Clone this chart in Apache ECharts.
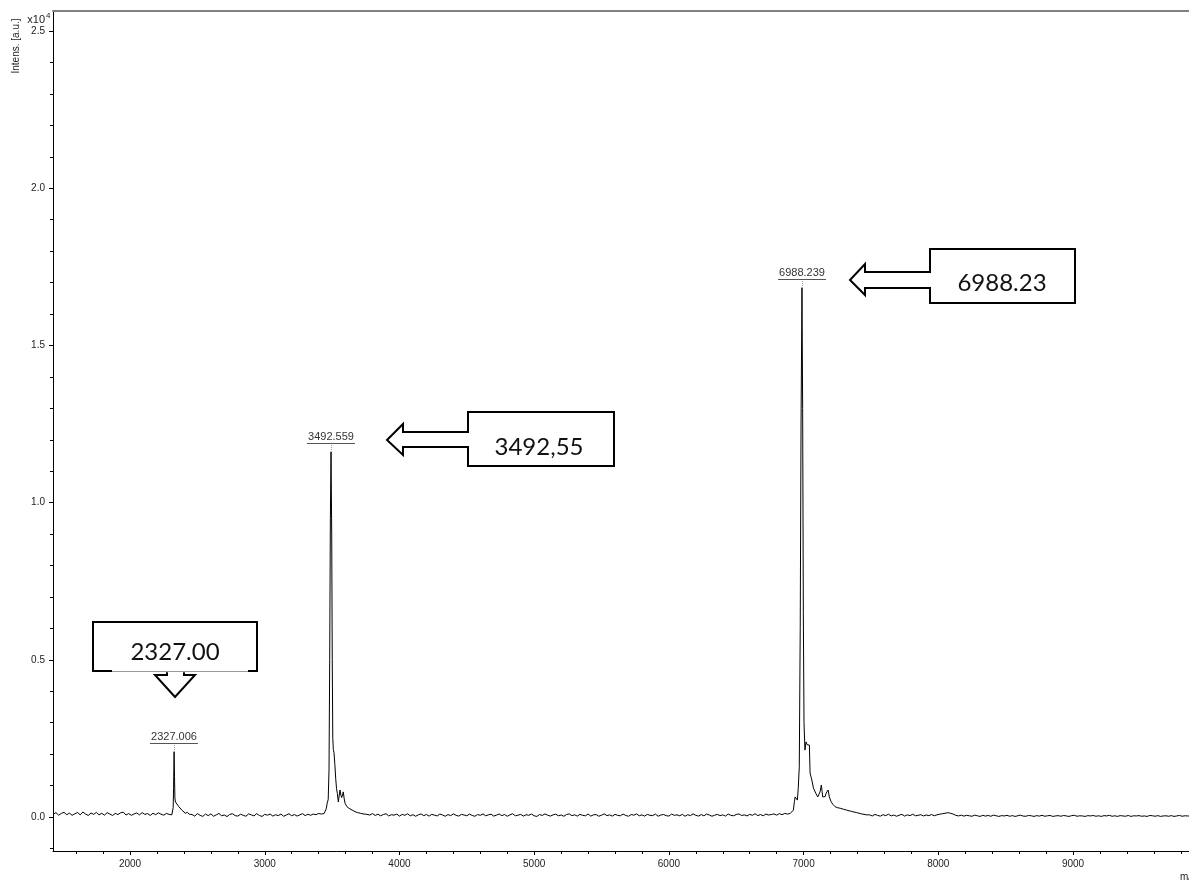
<!DOCTYPE html>
<html>
<head>
<meta charset="utf-8">
<script src="https://cdn.jsdelivr.net/npm/echarts@6/dist/echarts.min.js"></script>
<style>
html,body{margin:0;padding:0;background:#fff;}
#main{width:1189px;height:881px;}
</style>
</head>
<body>
<div id="main"></div>
<script>
// ---------- data ----------
const xTickValues = [2000, 3000, 4000, 5000, 6000, 7000, 8000, 9000];
const xMinorTickValues = [1600, 1800, 2200, 2400, 2600, 2800, 3200, 3400, 3600, 3800, 4200, 4400, 4600, 4800,
  5200, 5400, 5600, 5800, 6200, 6400, 6600, 6800, 7200, 7400, 7600, 7800, 8200, 8400, 8600, 8800,
  9200, 9400, 9600, 9800];
const yTickValues = [0, 5000, 10000, 15000, 20000, 25000];
const yMinorTickValues = [-1000, 1000, 2000, 3000, 4000, 6000, 7000, 8000, 9000, 11000, 12000, 13000, 14000,
  16000, 17000, 18000, 19000, 21000, 22000, 23000, 24000];

// baseline noise segments (start m/z, step 20)
const baseline1 = [90,140,60,115,150,75,125,55,105,145,70,160,95,50,130,85,150,70,120,60,140,95,50,115,80,135,155,65,110,55,100,130,70,140,85,110,50,120,75,135,90,60,115,85];
const peak2327 = [[2300,100],[2310,70],[2316,120],[2320,300],[2323,900],[2327,2080],[2330,1300],[2333,600],[2337,480],[2342,470],[2350,420],[2360,340],[2372,300],[2385,220],[2398,190],[2410,120],[2425,150],[2440,90]];
const baseline2 = [80,30,110,55,20,95,45,100,25,70, 115,40,65,15,85,105,45,30,90,55, 25,100,70,35,110,50,20,85,60,95, 30,75,45,95,25,65,105,40,80,30, 70,110,45,90,55,95,75,115,95];
const peak3492 = [[3430,90],[3440,110],[3448,150],[3456,260],[3464,450],[3471,560],[3477,1500],[3482,5000],[3487,9500],[3492,11620],[3497,9000],[3501,5000],[3505,2500],[3509,2150],[3514,2050],[3520,1700],[3527,1200],[3533,900],[3539,750],[3546,480],[3553,700],[3559,860],[3565,700],[3571,620],[3577,700],[3583,800],[3589,600],[3596,440],[3610,330],[3625,280],[3640,240],[3655,210],[3670,170],[3690,140],[3710,120],[3730,100],[3750,90]];
const baseline3 = [95,65,110,50,90,40,80,105,35,75, 60,95,30,85,55,105,40,75,25,70, 100,45,80,30,85,60,35,95,65,25,
  80,45,100,55,30,85,65,40,95,50, 25,80,55,100,40,70,90,30,60,95, 45,80,25,70,105,40,60,85,30,75,
  55,95,40,20,80,50,100,60,30,70, 90,40,65,25,80,100,45,70,30,85, 55,40,95,30,70,80,25,60,100,45,
  70,30,85,55,40,95,50,25,80,60, 100,40,70,30,85,55,45,95,25,65, 80,45,30,95,55,70,40,85,25,75,
  45,100,55,30,80,40,95,65,25,60, 85,45,70,30,95,55,40,80,100,50, 70,35,85,55,105,45,80,40,95,65,
  80,100,60,110,75,115,95];
const peak6988 = [[6900,110],[6912,150],[6924,220],[6932,500],[6937,640],[6944,700],[6950,620],[6954,540],[6960,900],[6968,1600],[6975,6000],[6981,12500],[6988,16840],[6993,13000],[6998,6500],[7003,3000],[7010,2130],[7018,2390],[7026,2300],[7035,2350],[7043,2290],[7048,1400],[7055,1280],[7061,1180],[7073,920],[7090,760],[7105,640],[7114,700],[7122,800],[7132,1020],[7137,820],[7142,640],[7152,600],[7160,650],[7167,760],[7175,800],[7182,860],[7191,640],[7204,490],[7218,400],[7234,330],[7250,300],[7271,280],[7295,250],[7320,220],[7355,180],[7395,140],[7430,100],[7469,70]];
const baseline4 = [70,35,85,50,30,75,45,90,35,65, 25,60,85,30,70,45,90,40,55,75, 35,65,45,80,40,70,90,105,120,140,
  120,95,55,35,60,30,55,40,25,60, 40,20,55,30,50,25,60,40,20,45, 35,55,25,45,20,40,60,30,25,50,
  40,20,45,30,55,25,40,50,20,35, 45,25,50,35,20,45,55,25,40,35, 20,45,35,50,25,40,20,45,35,55,
  25,40,20,45,35,25,50,20,40,35, 45,25,35,20,50,40,25,45,20,35, 40,25,45,20,35,50,25,40,35,30];

const peakMz = [2327, 3492, 6988];
const peakIntensity = [2080, 11620, 16840];
const peakLabels = ['2327.006', '3492.559', '6988.239'];
const calloutTexts = ['2327.00', '3492,55', '6988.23'];

// ---------- build ----------
function onGrid(start, step, vals) { return vals.map((v, i) => [start + i * step, v]); }
const spectrum = [].concat(
  onGrid(1430, 20, baseline1), peak2327,
  onGrid(2460, 20, baseline2), peak3492,
  onGrid(3760, 20, baseline3), peak6988,
  onGrid(7490, 20, baseline4)
);

const chart = echarts.init(document.getElementById('main'), null, { renderer: 'canvas' });
const axisFont = '"Liberation Sans", Arial, sans-serif';
const X_MIN = 1428, X_MAX = 9861, Y_MIN = -1080, Y_MAX = 25640;

chart.setOption({
  animation: false,
  backgroundColor: '#fff',
  grid: { left: 53, right: 0, top: 11, bottom: 30, containLabel: false, outerBoundsMode: 'none' },
  xAxis: [
    { type: 'value', min: X_MIN, max: X_MAX, position: 'bottom',
      axisLine: { show: true, onZero: false, lineStyle: { color: '#000', width: 1 } },
      axisTick: { show: true, customValues: xTickValues, length: 4, inside: false, lineStyle: { color: '#000' } },
      axisLabel: { show: true, customValues: xTickValues, formatter: v => String(v), fontSize: 10, color: '#222', margin: 8, fontFamily: axisFont },
      splitLine: { show: false } },
    { type: 'value', min: X_MIN, max: X_MAX, position: 'bottom',
      axisLine: { show: false, onZero: false },
      axisTick: { show: true, customValues: xMinorTickValues, length: 3, lineStyle: { color: '#000' } },
      axisLabel: { show: false }, splitLine: { show: false } },
    { type: 'value', min: X_MIN, max: X_MAX, position: 'top',
      axisLine: { show: true, onZero: false, lineStyle: { color: '#808080', width: 2 } },
      axisTick: { show: false }, axisLabel: { show: false }, splitLine: { show: false } }
  ],
  yAxis: [
    { type: 'value', min: Y_MIN, max: Y_MAX, position: 'left',
      axisLine: { show: true, onZero: false, lineStyle: { color: '#000', width: 1 } },
      axisTick: { show: true, customValues: yTickValues, length: 4, lineStyle: { color: '#000' } },
      axisLabel: { show: true, customValues: yTickValues, formatter: v => (v / 10000).toFixed(1), fontSize: 10, color: '#222', margin: 8, fontFamily: axisFont },
      splitLine: { show: false } },
    { type: 'value', min: Y_MIN, max: Y_MAX, position: 'left',
      axisLine: { show: false, onZero: false },
      axisTick: { show: true, customValues: yMinorTickValues, length: 3, lineStyle: { color: '#000' } },
      axisLabel: { show: false }, splitLine: { show: false } }
  ],
  series: [{
    type: 'line', xAxisIndex: 0, yAxisIndex: 0,
    data: spectrum, showSymbol: false, symbol: 'none',
    lineStyle: { color: '#000', width: 1 }, clip: true, z: 3
  }]
});

// ---------- annotations (positioned from data through the axes) ----------
const calloutFont = '24px Lato, "Open Sans", sans-serif';
const calloutShapes = [
  { pts: [[-81,-130],[83,-130],[83,-81],[10,-81],[10,-77],[21,-77],[1,-55],[-19,-77],[-7,-77],[-7,-81],[-81,-81]],
    gray: [[-62,-81],[74,-81]], text: [1,-100] },
  { pts: [[137,-40],[283,-40],[283,14],[137,14],[137,-5],[72,-5],[72,3],[56,-12],[72,-28],[72,-20],[137,-20]],
    gray: null, text: [208,-5] },
  { pts: [[128,-39],[273,-39],[273,15],[128,15],[128,0],[63,0],[63,7],[48,-8],[63,-24],[63,-16],[128,-16]],
    gray: null, text: [200,-5] }
];

const elements = [];
peakMz.forEach((m, i) => {
  const p = chart.convertToPixel({ xAxisIndex: 0, yAxisIndex: 0 }, [m, peakIntensity[i]]);
  const x = Math.round(p[0]), y = Math.round(p[1]);
  elements.push({ type: 'text', x: x, y: y - 15, z: 10,
    style: { text: peakLabels[i], font: '11px ' + axisFont, fill: '#333', align: 'center', verticalAlign: 'middle' } });
  elements.push({ type: 'line', z: 10, shape: { x1: x - 24, y1: y - 8.5, x2: x + 24, y2: y - 8.5 },
    style: { stroke: '#555', lineWidth: 1 } });
  elements.push({ type: 'line', z: 10, shape: { x1: x + 0.5, y1: y - 7, x2: x + 0.5, y2: y - 1 },
    style: { stroke: '#999', lineWidth: 1, lineDash: [1, 1] } });

  const c = calloutShapes[i];
  elements.push({ type: 'polygon', z: 11,
    shape: { points: c.pts.map(q => [x + q[0], y + q[1]]) },
    style: { fill: '#fff', stroke: '#000', lineWidth: 2, lineJoin: 'miter' } });
  if (c.gray) {
    elements.push({ type: 'line', z: 12,
      shape: { x1: x + c.gray[0][0], y1: y + c.gray[0][1], x2: x + c.gray[1][0], y2: y + c.gray[1][1] },
      style: { stroke: '#fff', lineWidth: 2.5 } });
    elements.push({ type: 'line', z: 13,
      shape: { x1: x + c.gray[0][0], y1: y + c.gray[0][1] + 0.5, x2: x + c.gray[1][0], y2: y + c.gray[1][1] + 0.5 },
      style: { stroke: '#999', lineWidth: 1 } });
  }
  elements.push({ type: 'text', z: 14, x: x + c.text[0], y: y + c.text[1],
    style: { text: calloutTexts[i], font: calloutFont, fill: '#111', align: 'center', verticalAlign: 'middle' } });
});

// axis titles
elements.push({ type: 'text', x: 16, y: 46, rotation: Math.PI / 2, z: 10,
  style: { text: 'Intens. [a.u.]', font: '10px ' + axisFont, fill: '#222', align: 'center', verticalAlign: 'middle' } });
elements.push({ type: 'text', x: 45, y: 20, z: 10,
  style: { text: 'x10', font: '11px ' + axisFont, fill: '#222', align: 'right', verticalAlign: 'middle' } });
elements.push({ type: 'text', x: 46, y: 16, z: 10,
  style: { text: '4', font: '8px ' + axisFont, fill: '#222', align: 'left', verticalAlign: 'middle' } });
elements.push({ type: 'text', x: 1180, y: 877, z: 10,
  style: { text: 'm/z', font: '10px ' + axisFont, fill: '#222', align: 'left', verticalAlign: 'middle' } });

chart.setOption({ graphic: { elements: elements } });
</script>
</body>
</html>
